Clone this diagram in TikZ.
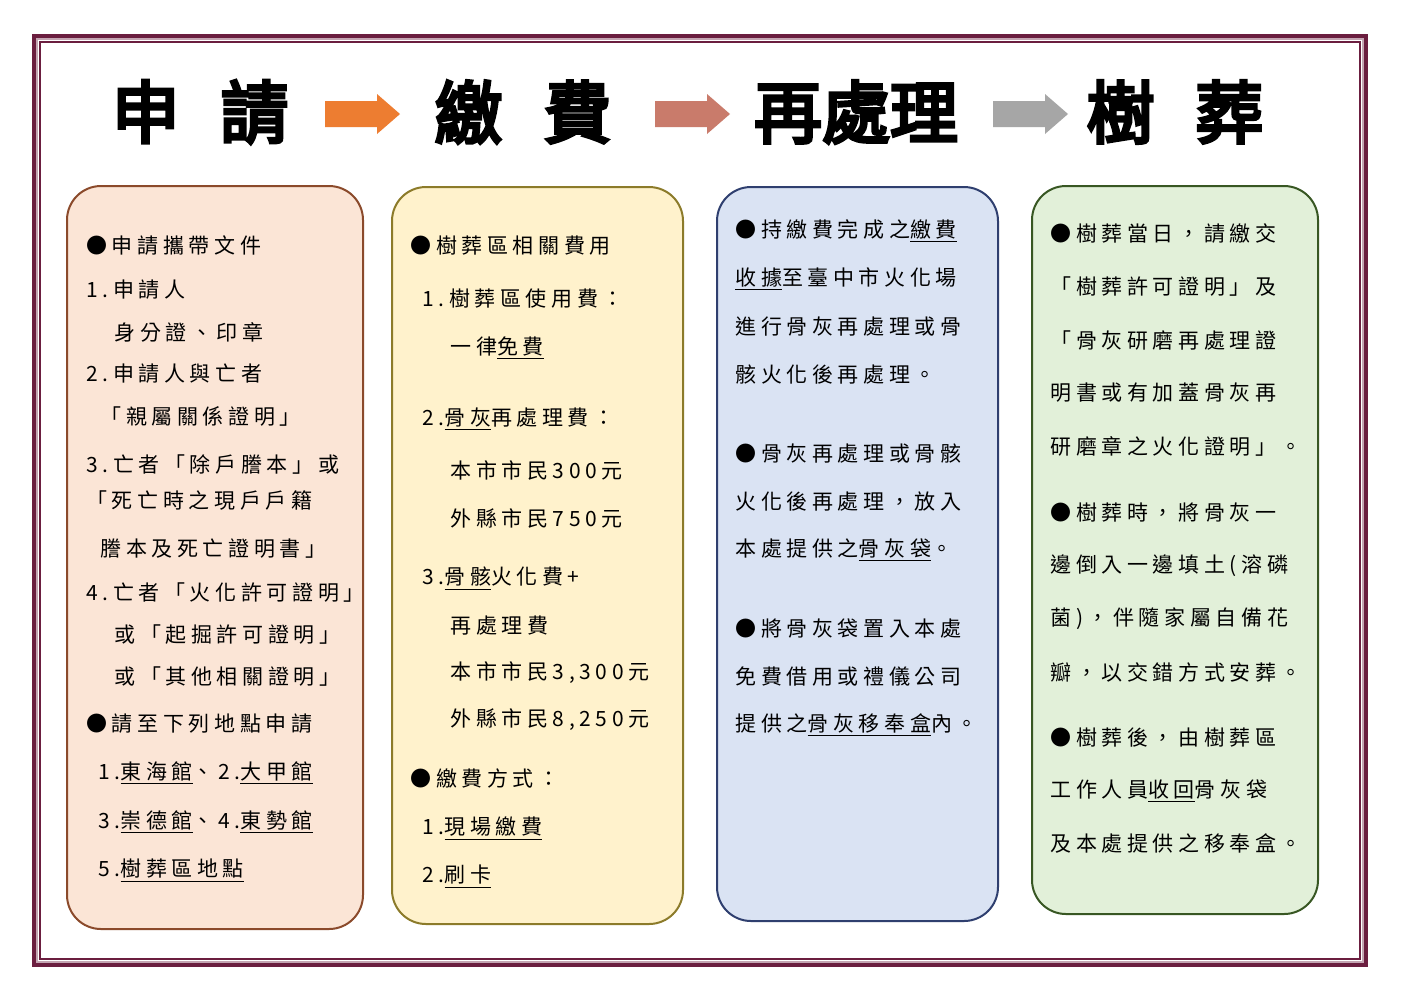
\documentclass[tikz,border=0pt]{standalone}
\usepackage{fontspec}
\setmainfont{Noto Sans CJK TC}[LetterSpace=22]
\newfontfamily\titlefont{Noto Sans CJK TC}[FakeBold=5]
\newcommand\ulx[1]{\underline{#1}}
\definecolor{frame}{HTML}{6B1E3F}
\definecolor{bA}{HTML}{FBE5D6}\definecolor{dA}{HTML}{8B4A2B}
\definecolor{bB}{HTML}{FFF2CC}\definecolor{dB}{HTML}{8C7B2A}
\definecolor{bC}{HTML}{DAE3F3}\definecolor{dC}{HTML}{2F3F6F}
\definecolor{bD}{HTML}{E2F0D9}\definecolor{dD}{HTML}{385723}
\definecolor{aA}{HTML}{ED7D31}\definecolor{aB}{HTML}{C97B6B}\definecolor{aC}{HTML}{A6A6A6}
\tikzset{
 tx/.style={anchor=west,inner sep=0pt,font=\fontsize{10.5pt}{12pt}\selectfont},
 ttl/.style={inner sep=0pt,font=\titlefont\fontsize{34pt}{36pt}\selectfont},
 col/.style={draw=#1,line width=1pt,rounded corners=17pt},
 arr/.style={fill=#1,draw=none}
}
\begin{document}
\begin{tikzpicture}[x=0.5pt,y=-0.5pt]
\useasboundingbox (0,0) rectangle (1403,992);
\fill[white] (0,0) rectangle (1403,992);
\draw[frame,line width=1.6pt] (34,36) rectangle (1366,965);
\draw[frame!40,line width=1.2pt] (37,39) rectangle (1363,962);
\draw[frame,line width=0.8pt] (40,42) rectangle (1360,959);
% titles
\node[ttl] (t1) at (200,112) {申\hspace{0.6em}請};
\node[ttl] (t2) at (523,112) {繳\hspace{0.6em}費};
\node[ttl] (t3) at (856,112) {再處理};
\node[ttl] (t4) at (1175,112) {樹\hspace{0.6em}葬};
\foreach \x/\c in {325/aA,655/aB,993/aC}{
 \fill[\c] (\x,101) -- (\x+52,101) -- (\x+52,94) -- (\x+75,114) -- (\x+52,134) -- (\x+52,127) -- (\x,127) -- cycle;}
% boxes
\filldraw[col=dA,fill=bA] (67,186) rectangle (363,929);
\filldraw[col=dB,fill=bB] (392,187) rectangle (683,924);
\filldraw[col=dC,fill=bC] (717,187) rectangle (998,921);
\filldraw[col=dD,fill=bD] (1032,186) rectangle (1318,914);
% box 1
\foreach \x/\y/\t [count=\i] in {
86/246/{●申請攜帶文件},
86/290/{1.申請人},
114/332/{身分證、印章},
86/374/{2.申請人與亡者},
100/416/{「親屬關係證明」},
86/464/{3.亡者「除戶謄本」或},
86/500/{「死亡時之現戶戶籍},
100/549/{謄本及死亡證明書」},
86/593/{4.亡者「火化許可證明」},
114/635/{或「起掘許可證明」},
114/677/{或「其他相關證明」},
86/724/{●請至下列地點申請},
98/773/{1.\ulx{東海館}、2.\ulx{大甲館}},
98/822/{3.\ulx{崇德館}、4.\ulx{東勢館}},
98/871/{5.\ulx{樹葬區地點}}}
 \node[tx] (a\i) at (\x,\y) {\t};
% box 2
\foreach \x/\y/\t [count=\i] in {
410/246/{●樹葬區相關費用},
422/299/{1.樹葬區使用費：},
450/348/{一律\ulx{免費}},
422/419/{2.\ulx{骨灰}再處理費：},
450/470/{本市市民300元},
450/518/{外縣市民750元},
422/579/{3.\ulx{骨骸}火化費+},
450/626/{再處理費},
450/673/{本市市民3,300元},
450/720/{外縣市民8,250元},
410/778/{●繳費方式：},
422/829/{1.\ulx{現場繳費}},
422/877/{2.\ulx{刷卡}}}
 \node[tx] (b\i) at (\x,\y) {\t};
% box 3
\foreach \y/\t [count=\i] in {
231/{●持繳費完成之\ulx{繳費}},
279/{\ulx{收據}至臺中市火化場},
327/{進行骨灰再處理或骨},
375/{骸火化後再處理。},
454/{●骨灰再處理或骨骸},
502/{火化後再處理，放入},
550/{本處提供之\ulx{骨灰袋}。},
629/{●將骨灰袋置入本處},
677/{免費借用或禮儀公司},
725/{提供之\ulx{骨灰移奉盒}內。}}
 \node[tx] (c\i) at (735,\y) {\t};
% box 4
\foreach \y/\t [count=\i] in {
234/{●樹葬當日，請繳交},
287/{「樹葬許可證明」及},
340/{「骨灰研磨再處理證},
393/{明書或有加蓋骨灰再},
446/{研磨章之火化證明」。},
513/{●樹葬時，將骨灰一},
566/{邊倒入一邊填土(溶磷},
619/{菌)，伴隨家屬自備花},
672/{瓣，以交錯方式安葬。},
738/{●樹葬後，由樹葬區},
791/{工作人員\ulx{收回}骨灰袋},
844/{及本處提供之移奉盒。}}
 \node[tx] (d\i) at (1050,\y) {\t};
\end{tikzpicture}
\end{document}
